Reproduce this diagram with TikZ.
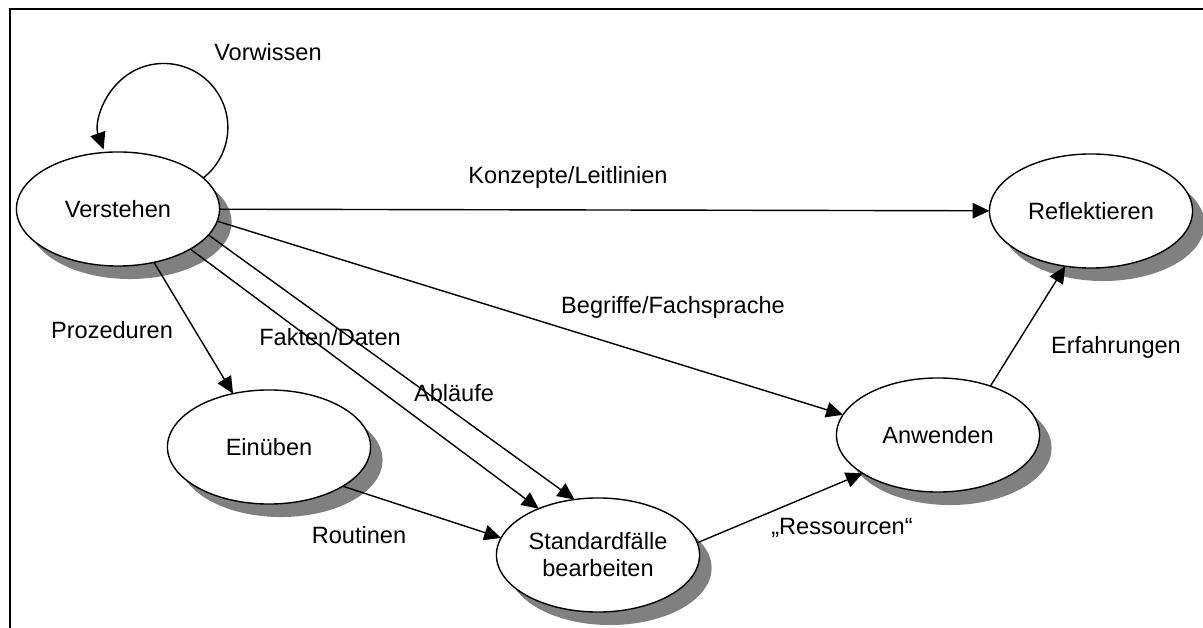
\documentclass[tikz,border=0pt]{standalone}
\usepackage{fontspec}
\setmainfont{Liberation Sans}
\usetikzlibrary{shapes.geometric,shadows,arrows.meta}

\begin{document}
\begin{tikzpicture}[x=0.01cm,y=-0.01cm,
        every node/.style={font=\fontsize{6.7}{7.7}\selectfont},
        phase/.style={ellipse,draw,fill=white,line width=0.4pt,minimum width=2.03cm,minimum height=1.14cm,
            inner sep=0pt,outer sep=0pt,align=center,
            drop shadow={shadow xshift=0.12cm,shadow yshift=-0.13cm,fill=black!50,opacity=1}},
        arr/.style={-{Triangle[length=4.8pt,width=4.4pt]},line width=0.4pt}]
        \useasboundingbox (0,0) rectangle (1203,628);
        \draw[line width=0.5pt] (1203,9) -- (10,9) -- (10,628);

        \node[phase] (verstehen)    at (118,209)  {Verstehen};
        \node[phase] (reflektieren) at (1091,211) {Reflektieren};
        \node[phase] (einueben)     at (269,447)  {Einüben};
        \node[phase] (standard)     at (598,555)  {Standardfälle\\bearbeiten};
        \node[phase] (anwenden)     at (938,435)  {Anwenden};

        \node (vorwissen)   at (268,52)   {Vorwissen};
        \node (konzepte)    at (568,177)  {Konzepte/Leitlinien};
        \node (begriffe)    at (673,307)  {Begriffe/Fachsprache};
        \node (prozeduren)  at (112,330)  {Prozeduren};
        \node (fakten)      at (330,337)  {Fakten/Daten};
        \node (ablaeufe)    at (454,393)  {Abläufe};
        \node (routinen)    at (359,535)  {Routinen};
        \node (ressourcen)  at (842,528)  {„Ressourcen“};
        \node (erfahrungen) at (1116,347) {Erfahrungen};

        \draw[arr] (verstehen.20) arc[start angle=-52,end angle=200,radius=0.64cm];
        \draw[arr] (verstehen) -- (reflektieren);
        \draw[arr] (verstehen.-7) -- (anwenden.168);
        \draw[arr] (verstehen.-29) -- (standard.142);
        \draw[arr] (verstehen.-16) -- (standard.113);
        \draw[arr] (verstehen.-56) -- (einueben.124);
        \draw[arr] (einueben.-28) -- (standard.170);
        \draw[arr] (standard.7) -- (anwenden.207);
        \draw[arr] (anwenden.43) -- (reflektieren.245);
    \end{tikzpicture}
\end{document}
